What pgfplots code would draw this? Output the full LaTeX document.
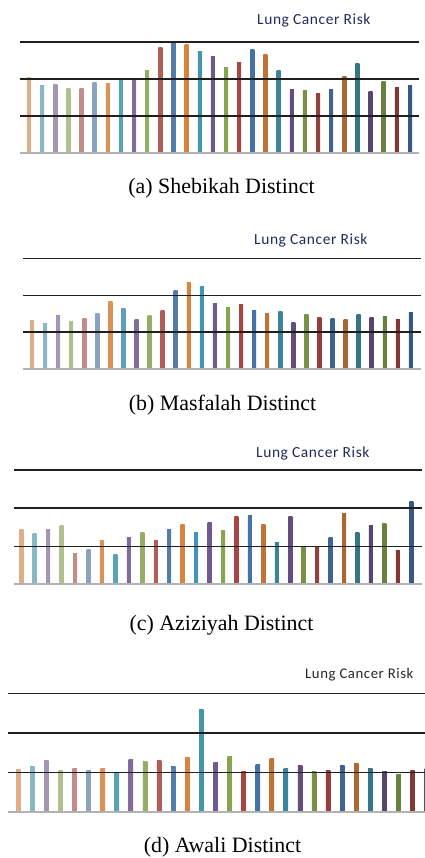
\documentclass[border=0pt]{standalone}
\usepackage{pgfplots}
\usepackage{pgfplotstable}
\pgfplotsset{compat=1.18}
\usepackage{fontspec}
\setmainfont{Liberation Serif}
\newfontfamily\calibri[LetterSpace=4]{Carlito}

% Office palette, cycled orange, aqua, purple, green, red, blue
\definecolor{xor}{HTML}{F79646}
\definecolor{xaq}{HTML}{4BACC6}
\definecolor{xpu}{HTML}{8064A2}
\definecolor{xgr}{HTML}{9BBB59}
\definecolor{xre}{HTML}{C0504D}
\definecolor{xbl}{HTML}{4F81BD}
\colorlet{c1}{xor!55!white}\colorlet{c2}{xaq!55!white}\colorlet{c3}{xpu!55!white}
\colorlet{c4}{xgr!55!white}\colorlet{c5}{xre!55!white}\colorlet{c6}{xbl!55!white}
\colorlet{c7}{xor!85!white}\colorlet{c8}{xaq!85!white}\colorlet{c9}{xpu!85!white}
\colorlet{c10}{xgr!85!white}\colorlet{c11}{xre!85!white}\colorlet{c12}{xbl!90!white}
\colorlet{c13}{xor}\colorlet{c14}{xaq}\colorlet{c15}{xpu}
\colorlet{c16}{xgr}\colorlet{c17}{xre}\colorlet{c18}{xbl}
\colorlet{c19}{xor!88!black}\colorlet{c20}{xaq!88!black}\colorlet{c21}{xpu!88!black}
\colorlet{c22}{xgr!88!black}\colorlet{c23}{xre!88!black}\colorlet{c24}{xbl!88!black}
\colorlet{c25}{xor!78!black}\colorlet{c26}{xaq!78!black}\colorlet{c27}{xpu!78!black}
\colorlet{c28}{xgr!78!black}\colorlet{c29}{xre!78!black}\colorlet{c30}{xbl!78!black}
\definecolor{titlenavy}{HTML}{1F2A5C}

% risk per location, one column per district
\pgfplotstableread{
n  a    b    c    d
1  2.03 1.32 1.45 1.08
2  1.82 1.24 1.34 1.14
3  1.86 1.46 1.43 1.30
4  1.73 1.28 1.55 1.06
5  1.73 1.36 0.81 1.11
6  1.91 1.50 0.92 1.04
7  1.89 1.83 1.16 1.09
8  2.01 1.64 0.78 0.99
9  1.95 1.34 1.22 1.33
10 2.24 1.45 1.36 1.28
11 2.86 1.58 1.15 1.31
12 3.00 2.14 1.44 1.15
13 2.93 2.35 1.57 1.39
14 2.73 2.24 1.37 2.59
15 2.61 1.77 1.63 1.26
16 2.30 1.68 1.40 1.40
17 2.44 1.76 1.78 1.02
18 2.81 1.58 1.81 1.19
19 2.67 1.50 1.58 1.34
20 2.23 1.55 1.09 1.11
21 1.71 1.26 1.79 1.17
22 1.68 1.47 1.00 1.02
23 1.60 1.40 0.96 1.06
24 1.72 1.38 1.23 1.17
25 2.08 1.34 1.86 1.22
26 2.42 1.47 1.36 1.10
27 1.66 1.39 1.55 1.02
28 1.94 1.42 1.59 0.96
29 1.76 1.35 0.88 1.06
30 1.82 1.53 2.17 1.11
}\risk

\pgfplotsset{
  riskaxis/.style={
    scale only axis,
    ymin=0, ymax=3,
    ytick={1,2,3}, yticklabels={},
    xtick=\empty,
    ymajorgrids, axis on top,
    major grid style={black!88, line width=1.4bp},
    extra y ticks={0}, extra y tick labels={},
    extra y tick style={major grid style={gray!60, line width=2bp}},
    axis line style={draw=none},
    tick style={draw=none},
  },
  riskbar/.style={
    ybar, bar shift=0pt, bar width=4bp, draw=none,
    left color=c#1!88!black, middle color=c#1!80!white, right color=c#1!88!black,
    restrict x to domain=#1:#1,
  },
}

\begin{document}
\begin{tikzpicture}
\useasboundingbox (0,0) rectangle (425bp,-858bp);

% (a)
\begin{axis}[riskaxis, at={(20bp,-153bp)}, anchor=south west,
  width=399bp, height=111bp, xmin=0.315, xmax=30.685]
\pgfplotsinvokeforeach{1,...,30}{
  \addplot[riskbar=#1] table[x=n, y=a] {\risk};
}
\end{axis}
\node[anchor=west, text=titlenavy, font=\calibri\fontsize{15.5}{18}\selectfont, inner sep=0pt] at (257bp,-20bp) {Lung Cancer Risk};
\node[font=\fontsize{22}{26}\selectfont] at (221.5bp,-188bp) {(a) Shebikah Distinct};

% (b)
\begin{axis}[riskaxis, at={(23bp,-369bp)}, anchor=south west,
  width=398bp, height=110.7bp, xmin=0.311, xmax=30.77]
\pgfplotsinvokeforeach{1,...,30}{
  \addplot[riskbar=#1] table[x=n, y=b] {\risk};
}
\end{axis}
\node[anchor=west, text=titlenavy, font=\calibri\fontsize{15.5}{18}\selectfont, inner sep=0pt] at (254bp,-240bp) {Lung Cancer Risk};
\node[font=\fontsize{22}{26}\selectfont] at (222.5bp,-405bp) {(b) Masfalah Distinct};

% (c)
\begin{axis}[riskaxis, at={(14bp,-584.3bp)}, anchor=south west,
  width=407.5bp, height=114.3bp, xmin=0.457, xmax=30.76]
\pgfplotsinvokeforeach{1,...,30}{
  \addplot[riskbar=#1] table[x=n, y=c] {\risk};
}
\end{axis}
\node[anchor=west, text=titlenavy, font=\calibri\fontsize{15.5}{18}\selectfont, inner sep=0pt] at (256bp,-453bp) {Lung Cancer Risk};
\node[font=\fontsize{22}{26}\selectfont] at (221.5bp,-625bp) {(c) Aziziyah Distinct};

% (d)
\begin{axis}[riskaxis, at={(8bp,-812bp)}, anchor=south west,
  width=417bp, height=118.7bp, xmin=0.269, xmax=29.87]
\pgfplotsinvokeforeach{1,...,30}{
  \addplot[riskbar=#1, bar width=4.5bp] table[x=n, y=d] {\risk};
}
\end{axis}
\node[anchor=west, text=black!85, font=\calibri\fontsize{14.8}{17}\selectfont, inner sep=0pt] at (305bp,-675bp) {Lung Cancer Risk};
\node[font=\fontsize{22}{26}\selectfont] at (222.5bp,-847bp) {(d) Awali Distinct};
\end{tikzpicture}
\end{document}
